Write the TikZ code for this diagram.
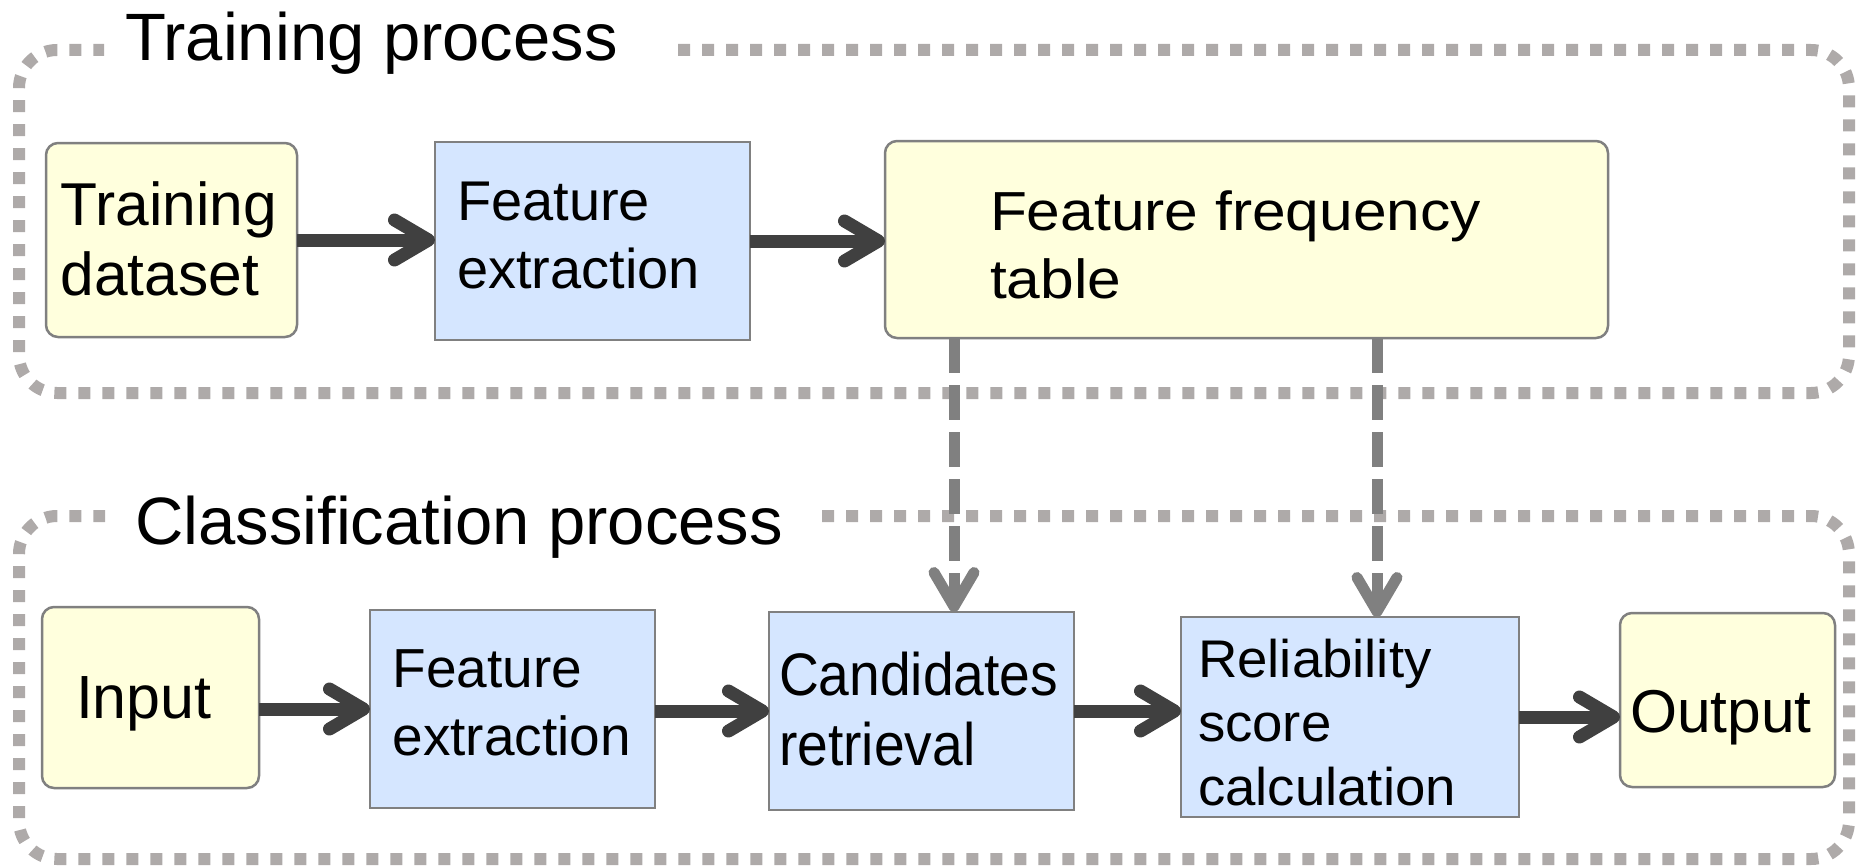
\documentclass[tikz,border=0pt]{standalone}
\usepackage{fontspec}
\setmainfont{Liberation Sans}
\newfontfamily\wideface{Liberation Sans}[FakeStretch=1.10]
\newfontfamily\calcface{Liberation Sans}[FakeStretch=1.03]
\newfontfamily\slimface{Liberation Sans}[FakeStretch=0.92]
\usetikzlibrary{arrows.meta}
\definecolor{boxyellow}{HTML}{FFFFDD}
\definecolor{boxblue}{HTML}{D5E6FF}
\definecolor{boxline}{HTML}{808080}
\definecolor{flowdark}{HTML}{404040}
\definecolor{flowgray}{HTML}{808080}
\definecolor{framegray}{HTML}{AEAAA9}

\begin{document}
\begin{tikzpicture}[x=1pt, y=-1pt,
  every node/.style={inner sep=0pt, outer sep=0pt},
  framebox/.style={draw=framegray, line width=12pt, dash pattern=on 12pt off 12pt, rounded corners=38pt},
  databox/.style={rectangle, draw=boxline, line width=2.5pt, fill=boxyellow, rounded corners=12pt},
  procbox/.style={rectangle, draw=boxline, line width=2.5pt, fill=boxblue},
  boxtext/.style={anchor=base west, text=black},
  heading/.style={anchor=base west, font=\fontsize{67}{80}\selectfont},
  flow/.style={draw=flowdark, line width=13pt, -{Straight Barb[length=34pt, width=40pt, round]}},
  feed/.style={draw=flowgray, line width=11pt, dash pattern=on 35pt off 12pt, -{Straight Barb[length=34pt, width=40pt, round]}},
]
\useasboundingbox (0,0) rectangle (1861,867);

% dotted frames of the two stages
\draw[framebox] (678,50) -- (1849,50) -- (1849,393) -- (19,393) -- (19,50) -- (104,50);
\draw[framebox] (822,516) -- (1849,516) -- (1849,859) -- (19,859) -- (19,516) -- (105,516);
\node[heading] (trainhead) at (125,60) {Training process};
\node[heading] (classhead) at (135,544) {Classification process};

% training stage
\node[databox, minimum width=251pt, minimum height=194pt] (td) at (171.5,240) {};
\node[procbox, minimum width=315pt, minimum height=198pt] (fe1) at (592.5,241) {};
\node[databox, minimum width=723pt, minimum height=197pt] (fft) at (1246.5,239.5) {};

\node[boxtext, font=\fontsize{60.5}{70}\selectfont] (tdtext) at (60.5,225)
  {\begin{tabular}[t]{@{}l@{}}Training\\dataset\end{tabular}};
\node[boxtext, font=\fontsize{56}{68}\selectfont] (fe1text) at (457,220)
  {\begin{tabular}[t]{@{}l@{}}Feature\\extraction\end{tabular}};
\node[boxtext, font=\wideface\fontsize{55}{68}\selectfont] (ffttext) at (990,230)
  {\begin{tabular}[t]{@{}l@{}}Feature frequency\\table\end{tabular}};

% classification stage
\node[databox, minimum width=217pt, minimum height=181pt] (in) at (150.5,697.5) {};
\node[procbox, minimum width=285pt, minimum height=198pt] (fe2) at (512.5,709) {};
\node[procbox, minimum width=305pt, minimum height=198pt] (cand) at (921.5,711) {};
\node[procbox, minimum width=338pt, minimum height=200pt] (rel) at (1350,717) {};
\node[databox, minimum width=215pt, minimum height=174pt] (out) at (1727.5,700) {};

\node[boxtext, font=\fontsize{61}{70}\selectfont] (intext) at (76,718.3) {Input};
\node[boxtext, font=\fontsize{55}{68}\selectfont] (fe2text) at (392.5,687)
  {\begin{tabular}[t]{@{}l@{}}Feature\\extraction\end{tabular}};
\node[boxtext, font=\slimface\fontsize{60}{70}\selectfont] (candtext) at (779,695)
  {\begin{tabular}[t]{@{}l@{}}Candidates\\retrieval\end{tabular}};
\node[boxtext, font=\calcface\fontsize{53}{64}\selectfont] (reltext) at (1198,677)
  {\begin{tabular}[t]{@{}l@{}}Reliability\\score\\calculation\end{tabular}};
\node[boxtext, font=\fontsize{60.5}{70}\selectfont] (outtext) at (1630,732) {Output};

% main flow
\draw[flow] (td.east) -- (td.east -| fe1.west);
\draw[flow] (fe1.east) -- (fe1.east -| fft.west);
\draw[flow] (fe2.west -| in.east) -- (fe2.west);
\draw[flow] (cand.west -| fe2.east) -- (cand.west);
\draw[flow] (cand.east) -- (cand.east -| rel.west);
\draw[flow] (rel.east) -- (rel.east -| out.west);

% lookups into the frequency table
\coordinate (feedA) at (954,0);
\coordinate (feedB) at (1377,0);
\draw[feed] (fft.south -| feedA) -- (cand.north -| feedA);
\draw[feed] (fft.south -| feedB) -- (rel.north -| feedB);
\end{tikzpicture}
\end{document}
